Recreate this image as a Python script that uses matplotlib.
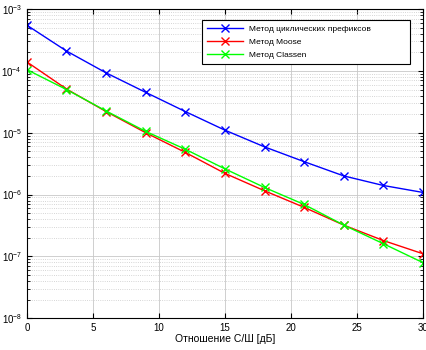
import numpy as np
import matplotlib.pyplot as plt

plt.rcParams['font.family'] = ['Liberation Sans', 'DejaVu Sans']
plt.rcParams['mathtext.default'] = 'regular'

snr = [0, 3, 6, 9, 12, 15, 18, 21, 24, 27, 30]
cp = [5.5e-4, 2.1e-4, 9.3e-5, 4.5e-5, 2.2e-5, 1.1e-5, 5.9e-6, 3.4e-6, 2.0e-6, 1.4e-6, 1.08e-6]
moose = [1.4e-4, 5.1e-5, 2.2e-5, 1.0e-5, 4.8e-6, 2.2e-6, 1.15e-6, 6.2e-7, 3.2e-7, 1.8e-7, 1.1e-7]
classen = [1.05e-4, 5.0e-5, 2.25e-5, 1.05e-5, 5.4e-6, 2.6e-6, 1.3e-6, 6.9e-7, 3.2e-7, 1.6e-7, 7.9e-8]
names = ["Метод циклических префиксов", "Метод Moose", "Метод Classen"]

fig = plt.figure(figsize=(4.26, 3.5), dpi=100)
ax = fig.add_axes([0.063, 0.091, 0.93, 0.883])

ax.semilogy(snr, cp, color="#0000ff", marker="x", markersize=6, linewidth=1, label=names[0])
ax.semilogy(snr, moose, color="#ff0000", marker="x", markersize=6, linewidth=1, label=names[1])
ax.semilogy(snr, classen, color="#00ff00", marker="x", markersize=6, linewidth=1, label=names[2])

ax.set_xlim(0, 30)
ax.set_ylim(1e-8, 1e-3)
ax.set_xticks([0, 5, 10, 15, 20, 25, 30])
ax.grid(True, which="major", color="#c8c8c8", linestyle="-", linewidth=0.6)
ax.grid(True, which="minor", color="#c8c8c8", linestyle=":", linewidth=0.6)
ax.tick_params(which="both", direction="in", top=True, right=True, labelsize=7)
ax.set_xlabel("Отношение С/Ш [дБ]", fontsize=7.5, labelpad=1)

# рамка легенды растянута как в MATLAB
leg = ax.legend(loc="upper left", bbox_to_anchor=(0.442, 0.822, 0.525, 0.142),
                mode="expand", fontsize=6, fancybox=False, framealpha=1,
                edgecolor="black", borderaxespad=0, handlelength=4.3,
                borderpad=0.6, labelspacing=0.6)
leg.get_frame().set_linewidth(0.8)

fig.savefig("out.png", dpi=100)
